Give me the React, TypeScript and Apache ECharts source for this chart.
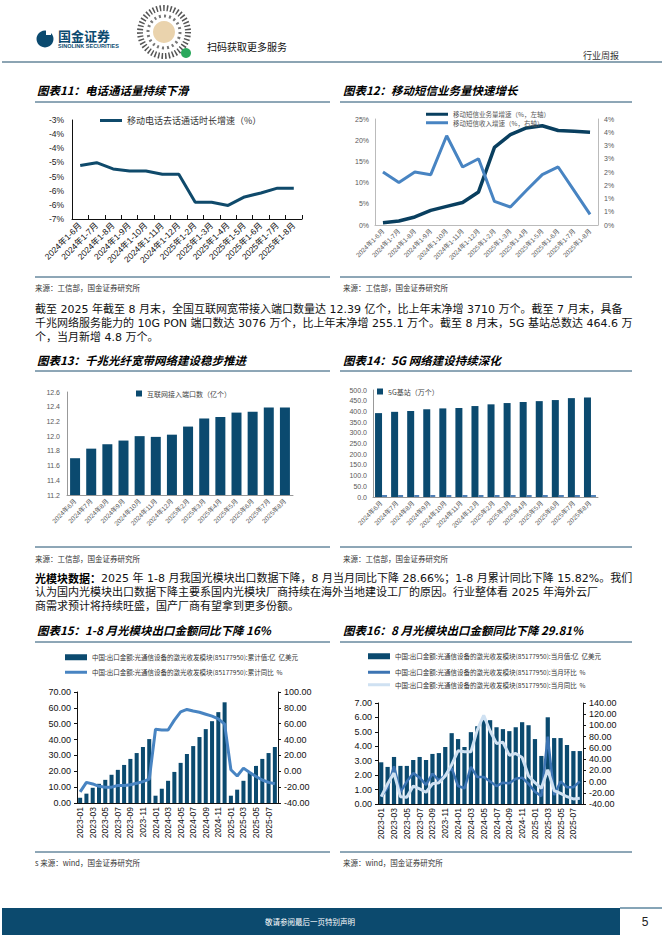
import React, { useEffect, useRef } from 'react';
import * as echarts from 'echarts';

// ---------- data ----------
const ytdMonths = ['2024年1-6月', '2024年1-7月', '2024年1-8月', '2024年1-9月', '2024年1-10月', '2024年1-11月', '2024年1-12月', '2025年1-2月', '2025年1-3月', '2025年1-4月', '2025年1-5月', '2025年1-6月', '2025年1-7月', '2025年1-8月'];
const callGrowth = [-4.61, -4.51, -4.73, -4.8, -4.8, -4.92, -4.92, -5.91, -5.91, -6.02, -5.72, -5.58, -5.41, -5.41];
const smsVolumeGrowth = [0.55, 0.94, 1.9, 3.45, 4.4, 5.3, 7.8, 18.3, 21.3, 22.9, 23.4, 22.3, 22.1, 21.9];
const smsRevenueGrowth = [2.0, 1.6, 2.0, 1.9, 3.37, 2.19, 2.5, 0.89, 0.68, 1.3, 1.9, 2.19, 1.3, 0.4];

const endMonths = ['2024年6月', '2024年7月', '2024年8月', '2024年9月', '2024年10月', '2024年11月', '2024年12月', '2025年2月', '2025年3月', '2025年4月', '2025年5月', '2025年6月', '2025年7月', '2025年8月'];
const broadbandPorts = [11.7, 11.83, 11.89, 11.94, 12.0, 11.99, 12.02, 12.13, 12.24, 12.26, 12.32, 12.33, 12.39, 12.39];
const baseStations = [392, 398, 402, 410, 414, 416, 425, 433, 439, 444, 448, 453, 462, 465];
const baseStationsAdded = [8.0, 7.9, 4.6, 4.7, 5.2, 5.0, 6.0, 7.4, 7.0, 3.8, 5.3, 6.3, 4.2, 4.8];

const exportMonths = ['2023-01', '2023-02', '2023-03', '2023-04', '2023-05', '2023-06', '2023-07', '2023-08', '2023-09', '2023-10', '2023-11', '2023-12', '2024-01', '2024-02', '2024-03', '2024-04', '2024-05', '2024-06', '2024-07', '2024-08', '2024-09', '2024-10', '2024-11', '2024-12', '2025-01', '2025-02', '2025-03', '2025-04', '2025-05', '2025-06', '2025-07', '2025-08'];
const exportCumValue = [3.3, 5.9, 9.6, 12.1, 14.6, 17.8, 20.9, 24.0, 27.8, 31.5, 35.3, 40.3, 4.6, 9.0, 14.0, 19.6, 25.3, 30.9, 35.9, 41.6, 46.6, 51.6, 57.3, 63.5, 4.6, 8.4, 14.0, 19.0, 23.4, 27.8, 31.5, 35.3];
const exportCumYoy = [-26, -14, -16, -19, -20, -20, -18, -18, -17, -15, -13, -10, 53, 52, 52, 64.5, 75, 78, 76, 74.5, 72, 69.5, 66, 59.5, 2, -6, 4, -1.5, -6.5, -11, -14, -15.82];
const exportMonthValue = [2.89, 2.57, 3.26, 2.64, 2.64, 3.05, 3.26, 3.05, 3.47, 3.53, 3.95, 4.91, 4.5, 3.95, 4.98, 5.39, 5.81, 5.81, 5.32, 5.19, 5.05, 5.32, 5.67, 5.46, 4.5, 3.33, 6.01, 4.57, 4.57, 4.09, 3.67, 3.67];
const exportMonthMom = [-27, -11, 27, -19, 0, 15, 7, -6, 14, 2, 12, 24, -8, -12, 26, 8, 8, 0, -8, -2, -3, 5, 7, -4, -18, -26, 80, -24, 0, -10, -10, 0];
const exportMonthYoy = [-27, -4, 15, -27, -28, -8, -13, -19, -4, -2, 10, 30, 55, 53, 53, 92, 118, 90, 68, 70, 47, 50, 43, 10, -2, -12, 21, -16, -21, -27, -31, -29.81];

// ---------- names / texts ----------
const nCall = '移动电话去话通话时长增速（%）';
const nSmsVol = '移动短信业务量增速（%，左轴）';
const nSmsRev = '移动短信收入增速（%，右轴）';
const nPorts = '互联网接入端口数（亿个）';
const nBase = '5G基站（万个）';
const nBaseAdd = '5G基站当月新增（万个）';
const prefix = '中国:出口金额:光通信设备的激光收发模块(85177950):';
const nCumVal = prefix + '累计值:亿  亿美元';
const nCumYoy = prefix + '累计同比  %';
const nMonVal = prefix + '当月值:亿  亿美元';
const nMonMom = prefix + '当月环比  %';
const nMonYoy = prefix + '当月同比  %';

const para1 = [
  '截至 2025 年截至 8 月末，全国互联网宽带接入端口数量达 12.39 亿个，比上年末净增 3710 万个。截至 7 月末，具备',
  '千兆网络服务能力的 10G PON 端口数达 3076 万个，比上年末净增 255.1 万个。截至 8 月末，5G 基站总数达 464.6 万',
  '个，当月新增 4.8 万个。',
];
const para2 = [
  '{b|光模块数据：}2025 年 1-8 月我国光模块出口数据下降，8 月当月同比下降 28.66%；1-8 月累计同比下降 15.82%。我们',
  '认为国内光模块出口数据下降主要系国内光模块厂商持续在海外当地建设工厂的原因。行业整体看 2025 年海外云厂',
  '商需求预计将持续旺盛，国产厂商有望拿到更多份额。',
];

const NAVY = '#0b4a6f';
const DARK = '#093f5f';
const MID = '#4884c2';
const LIGHT = '#cfe1f2';
const SANS = "'Liberation Sans', 'Noto Sans CJK SC', sans-serif";
const CJK = "'Noto Sans CJK SC', sans-serif";
const BODY = "'DejaVu Sans', 'Noto Sans CJK SC', sans-serif";
const RULE = '#1d4e6e';

const hline = (x1: number, x2: number, y: number, color = RULE, w = 1) => ({
  type: 'line', silent: true, shape: { x1, y1: y, x2, y2: y }, style: { stroke: color, lineWidth: w },
});
const txt = (x: number, y: number, text: string, extra: any = {}) => ({
  type: 'text', silent: true, x, y,
  style: { text, fill: '#222', fontSize: 11, fontFamily: CJK, align: 'left', verticalAlign: 'middle', ...extra },
});
const title = (x: number, y: number, t: string) =>
  txt(x, y, t, { fontSize: 11.5, fontWeight: 'bold', fontStyle: 'italic', fill: '#000' });
const source = (x: number, y: number, t: string) => txt(x, y, t, { fontSize: 7.5, fill: '#333' });
const bodyLine = (y: number, t: string) =>
  txt(35, y, t, { fontSize: 11, fill: '#111', fontFamily: BODY, rich: { b: { fontWeight: 'bold', fontSize: 11, fontFamily: CJK, fill: '#000' } } });

function buildOption(): any {
  const graphic: any[] = [
    // header
    { type: 'circle', silent: true, shape: { cx: 45, cy: 39, r: 8.5 }, style: { fill: NAVY } },
    { type: 'rect', silent: true, shape: { x: 46, y: 29, width: 5, height: 6 }, style: { fill: '#fff' } },
    txt(58, 35, '国金证券', { fontSize: 13, fontWeight: 'bold', fill: NAVY }),
    txt(58, 46, 'SINOLINK SECURITIES', { fontSize: 5.5, fontWeight: 'bold', fill: NAVY, fontFamily: SANS }),
    { type: 'circle', silent: true, shape: { cx: 164, cy: 32, r: 24 }, style: { fill: 'none', stroke: '#555', lineWidth: 6, lineDash: [1.5, 2] } },
    { type: 'circle', silent: true, shape: { cx: 164, cy: 32, r: 16 }, style: { fill: 'none', stroke: '#777', lineWidth: 3, lineDash: [2, 3] } },
    { type: 'circle', silent: true, shape: { cx: 164, cy: 32, r: 11 }, style: { fill: '#ead3ad' } },
    { type: 'circle', silent: true, shape: { cx: 186, cy: 53, r: 5 }, style: { fill: '#2aa85c' } },
    txt(207, 46, '扫码获取更多服务', { fontSize: 10, fill: '#111' }),
    txt(583, 55, '行业周报', { fontSize: 9, fill: '#333' }),
    hline(2, 662, 62, '#1b4a68', 1.2),
    // titles & rules
    title(37, 90, '图表11：电话通话量持续下滑'),
    title(343, 90, '图表12：移动短信业务量快速增长'),
    hline(35, 330, 102), hline(340, 632, 102),
    hline(35, 330, 277), hline(340, 632, 277),
    source(35, 287, '来源：工信部，国金证券研究所'),
    source(343, 287, '来源：工信部，国金证券研究所'),
    ...para1.map((t, i) => bodyLine(309 + i * 14.4, t)),
    title(37, 360, '图表13：千兆光纤宽带网络建设稳步推进'),
    title(343, 360, '图表14：5G 网络建设持续深化'),
    hline(35, 330, 371), hline(340, 632, 371),
    hline(35, 330, 547), hline(340, 632, 547),
    source(35, 558, '来源：工信部，国金证券研究所'),
    source(343, 558, '来源：工信部，国金证券研究所'),
    ...para2.map((t, i) => bodyLine(578 + i * 14.4, t)),
    title(37, 630, '图表15：1-8 月光模块出口金额同比下降 16%'),
    title(343, 630, '图表16：8 月光模块出口金额同比下降 29.81%'),
    hline(35, 330, 642), hline(340, 632, 642),
    hline(35, 330, 852), hline(340, 632, 852),
    source(35, 862, 's 来源：wind，国金证券研究所'),
    source(343, 862, '来源：wind，国金证券研究所'),
    // footer
    { type: 'rect', silent: true, shape: { x: 2, y: 908, width: 618, height: 27 }, style: { fill: '#0c4a6e' } },
    hline(620, 662, 908, '#0c4a6e', 1),
    txt(310, 921.5, '敬请参阅最后一页特别声明', { fontSize: 7.5, fill: '#fff', align: 'center' }),
    txt(645, 921.5, '5', { fontSize: 12, fill: '#222', align: 'center', fontFamily: SANS }),
  ];

  const catAxis = (gi: number, data: string[], label: any, line: any = {}) => ({
    type: 'category', gridIndex: gi, data, boundaryGap: true,
    axisLine: { show: true, onZero: false, lineStyle: { color: '#999', width: 1, ...line } },
    axisTick: { show: false },
    axisLabel: { interval: 0, fontFamily: SANS, ...label },
    splitLine: { show: false },
  });
  const valAxis = (gi: number, min: number, max: number, interval: number, fmt: (v: number) => string, label: any, extra: any = {}) => ({
    type: 'value', gridIndex: gi, min, max, interval,
    axisLine: { show: true, lineStyle: { color: '#999', width: 1 } },
    axisTick: { show: false },
    splitLine: { show: false },
    axisLabel: { formatter: fmt, fontFamily: SANS, ...label },
    ...extra,
  });
  const blackAxis = { axisLine: { show: true, lineStyle: { color: '#111' } }, axisTick: { show: true, length: 3, lineStyle: { color: '#111' } } };

  const lgText = (size: number, color = '#333') => ({ fontSize: size, color, fontFamily: CJK });

  return {
    animation: false,
    backgroundColor: '#fff',
    textStyle: { fontFamily: SANS },
    graphic,
    grid: [
      { left: 72, top: 120, width: 230, height: 99 },
      { left: 375, top: 119, width: 223, height: 106 },
      { left: 67, top: 392, width: 226, height: 103 },
      { left: 373, top: 390, width: 225, height: 107 },
      { left: 77, top: 692, width: 201, height: 111 },
      { left: 378, top: 703, width: 205, height: 101 },
    ],
    legend: [
      { data: [nCall], left: 100, top: 116, padding: 0, icon: 'rect', itemWidth: 22, itemHeight: 3, itemGap: 4, textStyle: lgText(9) },
      { data: [nSmsVol, nSmsRev], left: 426, top: 111, orient: 'vertical', padding: 0, icon: 'rect', itemWidth: 22, itemHeight: 3, itemGap: 2, textStyle: lgText(6.5, '#555') },
      { data: [nPorts], left: 136, top: 390, padding: 0, icon: 'rect', itemWidth: 6, itemHeight: 6, itemGap: 2, textStyle: lgText(7, '#444') },
      { data: [nBase], left: 377, top: 388, padding: 0, icon: 'rect', itemWidth: 6, itemHeight: 6, itemGap: 2, textStyle: lgText(7, '#444') },
      { data: [nCumVal], left: 65, top: 654, padding: 0, icon: 'rect', itemWidth: 22, itemHeight: 6, textStyle: lgText(6.5) },
      { data: [nCumYoy], left: 65, top: 669, padding: 0, icon: 'rect', itemWidth: 22, itemHeight: 3, textStyle: lgText(6.5) },
      { data: [nMonVal], left: 368, top: 653, padding: 0, icon: 'rect', itemWidth: 22, itemHeight: 6, textStyle: lgText(6.5) },
      { data: [nMonMom, nMonYoy], left: 368, top: 669, orient: 'vertical', padding: 0, icon: 'rect', itemWidth: 22, itemHeight: 3, itemGap: 6, textStyle: lgText(6.5) },
    ],
    xAxis: [
      { ...catAxis(0, ytdMonths, { rotate: 45, fontSize: 8.5, color: '#111', margin: 5 }, { color: '#111' }), axisTick: { show: true, inside: true, length: 4, lineStyle: { color: '#111' } } },
      catAxis(1, ytdMonths, { rotate: 45, fontSize: 6.5, color: '#595959', margin: 5 }, { color: '#bbb' }),
      catAxis(2, endMonths, { rotate: 45, fontSize: 6.5, color: '#595959', margin: 5 }, { color: '#999' }),
      catAxis(3, endMonths, { rotate: 45, fontSize: 6.5, color: '#595959', margin: 5 }, { color: '#999' }),
      catAxis(4, exportMonths, { rotate: 90, fontSize: 8.5, color: '#111', margin: 4, interval: 1 }, { color: '#111' }),
      catAxis(5, exportMonths, { rotate: 90, fontSize: 8.5, color: '#111', margin: 4, interval: 1 }, { color: '#111' }),
    ],
    yAxis: [
      { ...valAxis(0, -6.5, -3, 0.5, (v: number) => v.toFixed(0) + '%', { fontSize: 8.5, color: '#222', margin: 8 }), axisLine: { show: true, lineStyle: { color: '#111' } } },
      valAxis(1, 0, 25, 5, (v: number) => v.toFixed(0) + '%', { fontSize: 7, color: '#595959', margin: 6 }, { axisLine: { show: true, lineStyle: { color: '#bbb' } } }),
      valAxis(1, 0, 4, 0.5, (v: number) => v.toFixed(0) + '%', { fontSize: 7, color: '#595959', margin: 6 }, { position: 'right', axisLine: { show: true, lineStyle: { color: '#bbb' } } }),
      valAxis(2, 11.2, 12.6, 0.2, (v: number) => v.toFixed(1), { fontSize: 7, color: '#595959', margin: 7 }),
      valAxis(3, 0, 500, 50, (v: number) => v.toFixed(1), { fontSize: 7, color: '#595959', margin: 6 }),
      { ...valAxis(4, 0, 70, 10, (v: number) => v.toFixed(2), { fontSize: 9, color: '#111', margin: 6 }), ...blackAxis },
      { ...valAxis(4, -40, 100, 20, (v: number) => v.toFixed(2), { fontSize: 9, color: '#111', margin: 6 }), position: 'right', ...blackAxis },
      { ...valAxis(5, 0, 7, 1, (v: number) => v.toFixed(2), { fontSize: 9, color: '#111', margin: 6 }), ...blackAxis },
      { ...valAxis(5, -40, 140, 20, (v: number) => v.toFixed(2), { fontSize: 9, color: '#111', margin: 6 }), position: 'right', ...blackAxis },
    ],
    series: [
      { name: nCall, type: 'line', xAxisIndex: 0, yAxisIndex: 0, data: callGrowth, symbol: 'none', itemStyle: { color: '#0f4a6b' }, lineStyle: { color: '#0f4a6b', width: 3 } },
      { name: nSmsVol, type: 'line', xAxisIndex: 1, yAxisIndex: 1, data: smsVolumeGrowth, symbol: 'none', itemStyle: { color: DARK }, lineStyle: { color: DARK, width: 3.5 } },
      { name: nSmsRev, type: 'line', xAxisIndex: 1, yAxisIndex: 2, data: smsRevenueGrowth, symbol: 'none', itemStyle: { color: MID }, lineStyle: { color: MID, width: 3 } },
      { name: nPorts, type: 'bar', xAxisIndex: 2, yAxisIndex: 3, data: broadbandPorts, barWidth: 10, itemStyle: { color: NAVY } },
      { name: nBase, type: 'bar', xAxisIndex: 3, yAxisIndex: 4, data: baseStations, barWidth: 7, barGap: '0%', itemStyle: { color: NAVY } },
      { name: nBaseAdd, type: 'bar', xAxisIndex: 3, yAxisIndex: 4, data: baseStationsAdded, barWidth: 5, barGap: '0%', barMinHeight: 2, itemStyle: { color: '#4f7fb5' } },
      { name: nCumVal, type: 'bar', xAxisIndex: 4, yAxisIndex: 5, data: exportCumValue, barWidth: '64%', itemStyle: { color: NAVY } },
      { name: nCumYoy, type: 'line', xAxisIndex: 4, yAxisIndex: 6, data: exportCumYoy, symbol: 'none', itemStyle: { color: MID }, lineStyle: { color: MID, width: 3 } },
      { name: nMonVal, type: 'bar', xAxisIndex: 5, yAxisIndex: 7, data: exportMonthValue, barWidth: '66%', itemStyle: { color: NAVY } },
      { name: nMonMom, type: 'line', xAxisIndex: 5, yAxisIndex: 8, data: exportMonthMom, symbol: 'none', itemStyle: { color: '#3c74b3' }, lineStyle: { color: '#3c74b3', width: 2.5 } },
      { name: nMonYoy, type: 'line', xAxisIndex: 5, yAxisIndex: 8, data: exportMonthYoy, symbol: 'none', itemStyle: { color: LIGHT }, lineStyle: { color: LIGHT, width: 3 } },
    ],
  };
}

export default function App() {
  const ref = useRef<HTMLDivElement>(null);
  useEffect(() => {
    if (!ref.current) return;
    const chart = echarts.init(ref.current, null, { renderer: 'svg' });
    chart.setOption(buildOption());
    return () => chart.dispose();
  }, []);
  return (
    <div
      ref={ref}
      style={{ position: 'fixed', left: 0, top: 0, width: 662, height: 936, background: '#fff' }}
    />
  );
}
